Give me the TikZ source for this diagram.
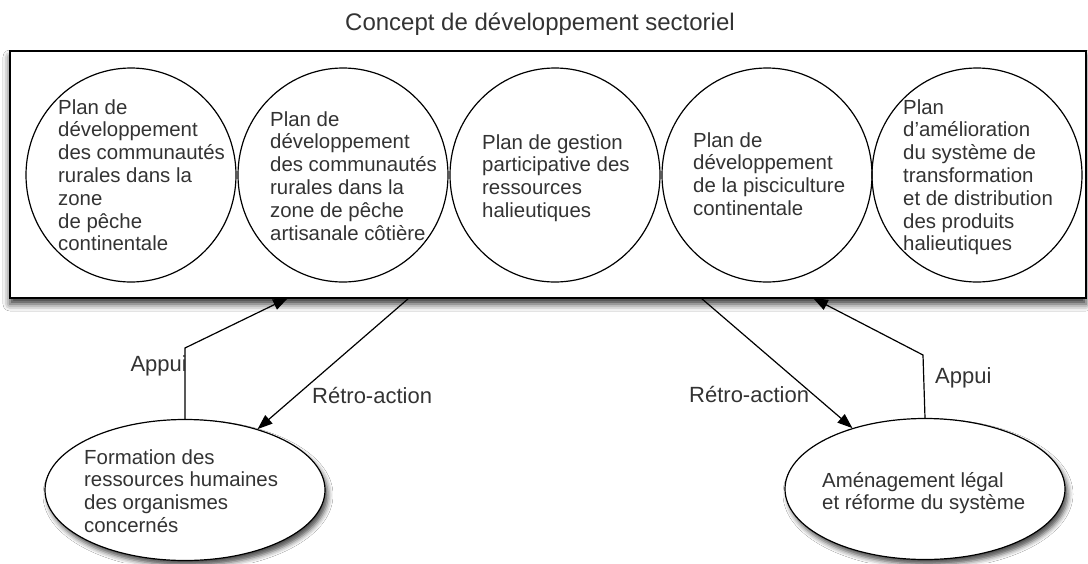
\documentclass[tikz,border=0pt]{standalone}
\usepackage{fontspec}
\setmainfont{Liberation Sans}
\usetikzlibrary{shapes.geometric,arrows.meta,shadows.blur}
\definecolor{txt}{HTML}{333333}
\newcommand{\ctext}[1]{\parbox[t]{230pt}{\raggedright #1}}
\begin{document}
\begin{tikzpicture}[x=1pt,y=-1pt,
  frame/.style={draw, line width=1.6pt, fill=white, inner sep=0pt,
    minimum width=1076pt, minimum height=247pt,
    blur shadow={shadow xshift=0pt, shadow yshift=-6pt, shadow blur radius=7pt, shadow opacity=80}},
  circ/.style={draw, ellipse, line width=1.2pt, inner sep=0pt,
    minimum width=210pt, minimum height=214pt},
  oval/.style={draw, ellipse, line width=1.2pt, inner sep=0pt, fill=white,
    minimum width=280pt, minimum height=141pt,
    blur shadow={shadow xshift=3pt, shadow yshift=-5pt, shadow blur radius=5pt, shadow opacity=70}},
  ctxt/.style={anchor=base west, inner sep=0pt, text=txt, font=\fontsize{20.4}{22.8}\selectfont},
  lbl/.style={inner sep=0pt, text=txt, font=\fontsize{22}{25}\selectfont},
  arr/.style={draw, line width=1.2pt, -{Triangle[length=15pt,width=11pt]}}]
\useasboundingbox (0,0) rectangle (1088,563);
\fill[white] (0,0) rectangle (1088,563);

\node[lbl, font=\fontsize{24}{28}\selectfont] (title) at (540,24) {Concept de développement sectoriel};

\node[frame] (box) at (548,174.5) {};

\node[circ] (c1) at (131,175) {};
\node[circ] (c2) at (343,175) {};
\node[circ] (c3) at (555,175) {};
\node[circ] (c4) at (767,175) {};
\node[circ] (c5) at (977,175) {};

\node[ctxt] (t1) at (58,114) {\ctext{Plan de\\développement\\des communautés\\rurales dans la\\zone\\de pêche\\continentale}};
\node[ctxt] (t2) at (270,126) {\ctext{Plan de\\développement\\des communautés\\rurales dans la\\zone de pêche\\artisanale côtière}};
\node[ctxt] (t3) at (482,149) {\ctext{Plan de gestion\\participative des\\ressources\\halieutiques}};
\node[ctxt] (t4) at (693,147) {\ctext{Plan de\\développement\\de la pisciculture\\continentale}};
\node[ctxt] (t5) at (903,114) {\ctext{Plan\\d’amélioration\\du système de\\transformation\\et de distribution\\des produits\\halieutiques}};

\node[oval] (e1) at (185,490) {};
\node[oval] (e2) at (925,489) {};
\node[ctxt] (f1) at (84,464) {\ctext{Formation des\\ressources humaines\\des organismes\\concernés}};
\node[ctxt] (f2) at (822,487) {\ctext{Aménagement légal\\et réforme du système}};

\coordinate (a1) at (288,298);
\coordinate (b1) at (185,348);
\coordinate (r1) at (409,298);
\coordinate (r2) at (701,298);
\coordinate (a2) at (813,298);
\coordinate (b2) at (923,355);

\draw[arr] (e1.north) -- (b1) -- (a1);
\draw[arr] (r1) -- (e1.40);
\draw[arr] (r2) -- (e2.140);
\draw[arr] (e2.north) -- (b2) -- (a2);

\node[lbl, anchor=east] (l1) at (187,366) {Appui};
\node[lbl, anchor=west] (l2) at (312,396) {Rétro-action};
\node[lbl, anchor=west] (l3) at (689,395) {Rétro-action};
\node[lbl, anchor=west] (l4) at (935,378) {Appui};
\end{tikzpicture}
\end{document}
